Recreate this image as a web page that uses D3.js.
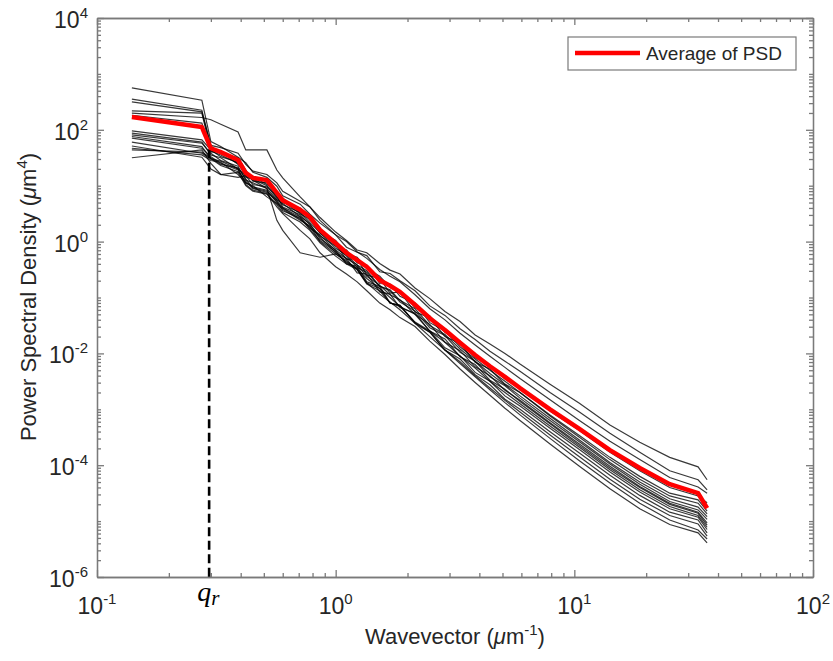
<!DOCTYPE html>
<html>
<head>
<meta charset="utf-8">
<script src="https://cdnjs.cloudflare.com/ajax/libs/d3/7.8.5/d3.min.js"></script>
<style>
  body { margin: 0; background: #fff; }
  text { font-family: "Liberation Sans", Arial, sans-serif; fill: #262626; }
</style>
</head>
<body>
<script>
// wavevector q (um^-1), shared by every curve
var wavevector = [0.14, 0.275, 0.30, 0.33, 0.39, 0.42, 0.45, 0.515, 0.567, 0.60, 0.71, 0.78, 0.86, 1.0, 1.11, 1.23, 1.35, 1.53, 1.69, 1.86,
                  2.15, 2.48, 2.87, 3.32, 3.84, 4.43, 5.12, 5.92, 7.91, 10.5, 14.1, 18.8, 25.1, 33.0, 36.0];

// PSD, stored as log10(PSD / um^4)
var averagePsd = [2.23, 2.05, 1.67, 1.60, 1.46, 1.23, 1.14, 1.10, 0.87, 0.74, 0.57, 0.44, 0.21, -0.03, -0.20, -0.33, -0.45, -0.69, -0.79, -0.90,
                  -1.13, -1.37, -1.58, -1.81, -2.03, -2.23, -2.42, -2.62, -3.00, -3.35, -3.73, -4.05, -4.34, -4.50, -4.77];

var psd01 = [2.50, 2.32, 1.72, 1.68, 1.58, 1.38, 1.26, 1.20, 1.05, 0.90, 0.72, 0.62, 0.43, 0.17, 0.02, -0.15, -0.20, -0.39, -0.51, -0.58, -0.83, -1.02, -1.25, -1.43, -1.67, -1.83, -2.00, -2.19, -2.55, -2.89, -3.28, -3.59, -3.86, -4.03, -4.26];
var psd02 = [2.75, 2.53, 1.79, 1.70, 1.51, 1.41, 1.24, 1.15, 0.99, 0.82, 0.67, 0.49, 0.33, 0.12, -0.10, -0.19, -0.25, -0.54, -0.57, -0.70, -0.88, -1.15, -1.32, -1.56, -1.75, -1.96, -2.14, -2.32, -2.70, -3.05, -3.43, -3.77, -4.10, -4.26, -4.44];
var psd03 = [2.30, 2.22, 2.18, 2.10, 1.96, 1.64, 1.64, 1.64, 1.28, 1.14, 0.80, 0.62, 0.38, 0.12, 0.00, -0.18, -0.30, -0.50, -0.62, -0.72, -0.95, -1.20, -1.40, -1.64, -1.85, -2.05, -2.25, -2.45, -2.83, -3.20, -3.57, -3.90, -4.22, -4.39, -4.50];
var psd04 = [2.55, 2.35, 1.70, 1.58, 1.50, 1.28, 1.10, 1.12, 0.84, 0.78, 0.52, 0.46, 0.18, 0.02, -0.22, -0.28, -0.48, -0.62, -0.82, -0.88, -1.18, -1.33, -1.62, -1.78, -2.08, -2.22, -2.46, -2.63, -3.03, -3.38, -3.77, -4.10, -4.40, -4.55, -4.67];
var psd05 = [2.34, 2.30, 1.62, 1.55, 1.40, 1.20, 1.16, 1.02, 0.90, 0.70, 0.60, 0.38, 0.24, -0.08, -0.15, -0.38, -0.42, -0.75, -0.76, -0.98, -1.10, -1.45, -1.60, -1.88, -2.10, -2.30, -2.50, -2.70, -3.10, -3.47, -3.86, -4.20, -4.50, -4.62, -4.82];
var psd06 = [2.26, 2.12, 1.60, 1.62, 1.38, 1.26, 1.08, 1.05, 0.80, 0.72, 0.50, 0.40, 0.15, -0.05, -0.32, -0.30, -0.60, -0.66, -0.92, -0.90, -1.26, -1.36, -1.70, -1.82, -2.16, -2.28, -2.55, -2.70, -3.12, -3.50, -3.90, -4.25, -4.55, -4.68, -4.87];
var psd07 = [1.98, 1.82, 1.64, 1.52, 1.42, 1.15, 1.12, 1.00, 0.78, 0.66, 0.52, 0.34, 0.16, -0.12, -0.24, -0.42, -0.52, -0.80, -0.86, -1.05, -1.20, -1.50, -1.66, -1.92, -2.14, -2.36, -2.56, -2.76, -3.16, -3.55, -3.95, -4.30, -4.60, -4.75, -4.92];
var psd08 = [1.94, 1.78, 1.55, 1.50, 1.30, 1.18, 1.02, 0.98, 0.82, 0.62, 0.48, 0.30, 0.10, -0.08, -0.26, -0.46, -0.55, -0.80, -0.88, -1.08, -1.24, -1.54, -1.68, -1.98, -2.14, -2.42, -2.58, -2.80, -3.20, -3.58, -3.98, -4.34, -4.65, -4.80, -4.97];
var psd09 = [1.91, 1.76, 1.58, 1.45, 1.35, 1.10, 1.05, 0.95, 0.75, 0.68, 0.45, 0.32, 0.05, -0.15, -0.30, -0.42, -0.62, -0.78, -0.95, -1.04, -1.30, -1.48, -1.80, -1.95, -2.24, -2.40, -2.66, -2.84, -3.24, -3.62, -4.02, -4.38, -4.68, -4.84, -5.03];
var psd10 = [1.85, 1.67, 1.52, 1.40, 1.28, 1.05, 0.98, 0.92, 0.70, 0.60, 0.40, 0.26, 0.08, -0.20, -0.30, -0.56, -0.58, -0.90, -0.94, -1.18, -1.28, -1.60, -1.74, -2.06, -2.20, -2.48, -2.64, -2.86, -3.26, -3.65, -4.05, -4.40, -4.70, -4.86, -5.07];
var psd11 = [1.78, 1.58, 1.48, 1.36, 1.25, 1.08, 0.95, 0.88, 0.72, 0.55, 0.42, 0.22, 0.02, -0.18, -0.38, -0.48, -0.66, -0.84, -1.00, -1.16, -1.30, -1.60, -1.80, -2.05, -2.26, -2.50, -2.70, -2.90, -3.30, -3.68, -4.08, -4.44, -4.74, -4.90, -5.11];
var psd12 = [1.71, 1.51, 1.30, 1.20, 1.24, 1.00, 0.90, 0.85, 0.66, 0.52, 0.35, 0.20, -0.02, -0.26, -0.40, -0.50, -0.76, -0.88, -1.10, -1.16, -1.44, -1.60, -1.90, -2.04, -2.34, -2.50, -2.76, -2.94, -3.34, -3.72, -4.12, -4.48, -4.78, -4.93, -5.15];
var psd13 = [1.67, 1.55, 1.45, 1.42, 1.20, 1.05, 1.00, 0.80, 0.68, 0.58, 0.38, 0.28, 0.00, -0.22, -0.36, -0.48, -0.74, -0.84, -1.10, -1.14, -1.46, -1.62, -1.94, -2.10, -2.38, -2.56, -2.82, -3.00, -3.40, -3.78, -4.18, -4.54, -4.84, -4.98, -5.21];
var psd14 = [1.64, 1.60, 1.50, 1.38, 1.32, 1.12, 0.96, 0.90, 0.74, 0.60, 0.44, 0.24, 0.12, -0.16, -0.40, -0.44, -0.72, -0.80, -1.10, -1.14, -1.45, -1.62, -1.94, -2.15, -2.40, -2.62, -2.84, -3.05, -3.46, -3.85, -4.25, -4.61, -4.90, -5.05, -5.27];
var psd15 = [1.50, 1.64, 1.40, 1.20, 1.15, 1.18, 1.10, 0.95, 0.38, 0.20, -0.20, -0.24, -0.28, -0.22, -0.34, -0.50, -0.74, -0.94, -1.08, -1.22, -1.46, -1.70, -1.94, -2.18, -2.42, -2.65, -2.88, -3.10, -3.52, -3.92, -4.32, -4.68, -4.98, -5.16, -5.32];
var psd16 = [1.88, 1.70, 1.48, 1.44, 1.30, 1.02, 0.92, 0.86, 0.62, 0.50, 0.20, 0.05, -0.20, -0.45, -0.58, -0.72, -0.88, -1.10, -1.22, -1.36, -1.52, -1.78, -2.02, -2.28, -2.52, -2.75, -2.98, -3.20, -3.62, -4.02, -4.42, -4.78, -5.06, -5.21, -5.39];

var runs = [psd01, psd02, psd03, psd04, psd05, psd06, psd07, psd08, psd09, psd10, psd11, psd12, psd13, psd14, psd15, psd16];

var xTicks = [0.1, 1, 10, 100];
var xTickExp = ["-1", "0", "1", "2"];
var yTicks = [1e-6, 1e-4, 1e-2, 1, 1e2, 1e4];
var yTickExp = ["-6", "-4", "-2", "0", "2", "4"];

var qr = 0.295;       // roll-off wavevector
var qrPsd = 45;       // PSD where the marker line starts

var width = 833, height = 661;

var x = d3.scaleLog().domain([0.1, 100]).range([97, 813]);
var y = d3.scaleLog().domain([1e-6, 1e4]).range([577, 18]);

var svg = d3.select("body").append("svg")
    .attr("width", width)
    .attr("height", height);

// minor ticks 2..9 x 10^k
var xMinor = [], yMinor = [];
for (var e = -1; e < 2; e++) for (var m = 2; m < 10; m++) xMinor.push(m * Math.pow(10, e));
for (var e2 = -6; e2 < 4; e2++) for (var m2 = 1; m2 < 10; m2++) {
  var v = m2 * Math.pow(10, e2);
  if (m2 > 1 || e2 % 2 !== 0) yMinor.push(v);
}

function styleAxis(g) {
  g.selectAll("path, line").attr("stroke", "#7a7a7a").attr("stroke-width", 1.3);
}

var axes = [
  [d3.axisBottom(x), 577, 0, xTicks, xMinor],
  [d3.axisTop(x), 18, 0, xTicks, xMinor],
  [d3.axisLeft(y), 0, 97, yTicks, yMinor],
  [d3.axisRight(y), 0, 813, yTicks, yMinor]
];
axes.forEach(function(a) {
  svg.append("g")
      .attr("transform", "translate(" + a[2] + "," + a[1] + ")")
      .call(a[0].tickValues(a[4]).tickSizeInner(-4).tickSizeOuter(0).tickFormat(""))
      .call(styleAxis);
  svg.append("g")
      .attr("transform", "translate(" + a[2] + "," + a[1] + ")")
      .call(a[0].tickValues(a[3]).tickSizeInner(-7).tickSizeOuter(0).tickFormat(""))
      .call(styleAxis);
});

// tick labels with superscripts
xTicks.forEach(function(t, i) {
  var tx = svg.append("text")
      .attr("x", x(t))
      .attr("y", 614)
      .attr("text-anchor", "middle")
      .style("font-size", "23px");
  tx.append("tspan").text("10");
  tx.append("tspan").attr("dy", -10).style("font-size", "15px").text(xTickExp[i]);
});
yTicks.forEach(function(t, i) {
  var ty = svg.append("text")
      .attr("x", 88)
      .attr("y", y(t) + 10)
      .attr("text-anchor", "end")
      .style("font-size", "23px");
  ty.append("tspan").text("10");
  ty.append("tspan").attr("dy", -10).style("font-size", "15px").text(yTickExp[i]);
});

var line = d3.line()
    .x(function(d) { return x(d[0]); })
    .y(function(d) { return y(Math.pow(10, d[1])); });

svg.append("g").selectAll("path")
    .data(runs)
  .enter().append("path")
    .attr("d", function(r) { return line(d3.zip(wavevector, r)); })
    .attr("fill", "none")
    .attr("stroke", "#000")
    .attr("stroke-opacity", 0.78)
    .attr("stroke-width", 1.2);

svg.append("line")
    .attr("x1", x(qr)).attr("x2", x(qr))
    .attr("y1", y(qrPsd)).attr("y2", y(1e-6))
    .attr("stroke", "#000")
    .attr("stroke-width", 2.6)
    .attr("stroke-dasharray", "9,4.5");

svg.append("path")
    .attr("d", line(d3.zip(wavevector, averagePsd)))
    .attr("fill", "none")
    .attr("stroke", "#ff0000")
    .attr("stroke-width", 4.5)
    .attr("stroke-linejoin", "round");

// q_r label
var ql = svg.append("text")
    .attr("x", x(qr) - 12)
    .attr("y", 601)
    .style("font-family", "'Liberation Serif', 'Times New Roman', serif")
    .style("font-style", "italic")
    .style("font-size", "28px")
    .style("fill", "#000");
ql.append("tspan").text("q");
ql.append("tspan").attr("dy", 4).style("font-size", "21px").text("r");

// axis titles
var xl = svg.append("text")
    .attr("x", 455)
    .attr("y", 644)
    .attr("text-anchor", "middle")
    .style("font-size", "22px");
xl.append("tspan").text("Wavevector (");
xl.append("tspan").style("font-style", "italic").text("\u03bc");
xl.append("tspan").text("m");
xl.append("tspan").attr("dy", -9).style("font-size", "15px").text("-1");
xl.append("tspan").attr("dy", 9).text(")");

var yl = svg.append("text")
    .attr("transform", "translate(36,297) rotate(-90)")
    .attr("text-anchor", "middle")
    .style("font-size", "22px");
yl.append("tspan").text("Power Spectral Density (");
yl.append("tspan").style("font-style", "italic").text("\u03bc");
yl.append("tspan").text("m");
yl.append("tspan").attr("dy", -9).style("font-size", "15px").text("4");
yl.append("tspan").attr("dy", 9).text(")");

// legend
var lg = svg.append("g");
lg.append("rect")
    .attr("x", 568).attr("y", 37)
    .attr("width", 228).attr("height", 33)
    .attr("fill", "#fff")
    .attr("stroke", "#7a7a7a")
    .attr("stroke-width", 1.2);
lg.append("line")
    .attr("x1", 575).attr("x2", 640)
    .attr("y1", 53).attr("y2", 53)
    .attr("stroke", "#ff0000")
    .attr("stroke-width", 4.5);
lg.append("text")
    .attr("x", 646).attr("y", 60)
    .style("font-size", "19px")
    .text("Average of PSD");
</script>
</body>
</html>
